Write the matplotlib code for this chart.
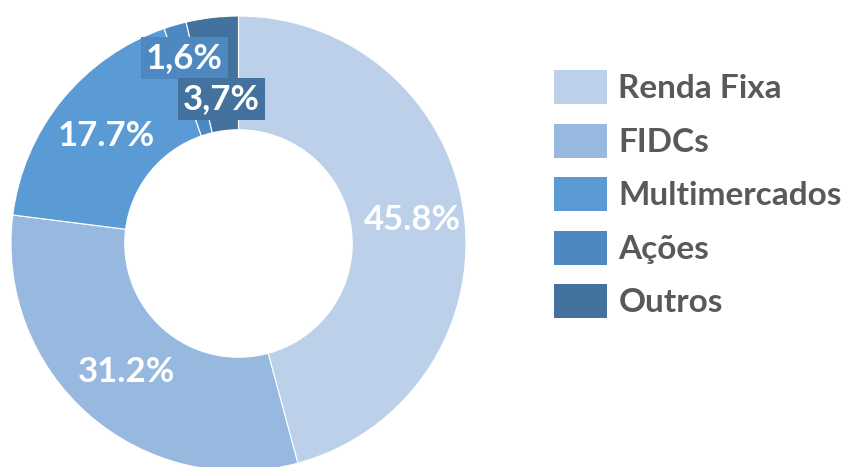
import numpy as np
import matplotlib
matplotlib.use("Agg")
import matplotlib.pyplot as plt

categories = ["Renda Fixa", "FIDCs", "Multimercados", "Ações", "Outros"]
shares = [45.8, 31.2, 17.7, 1.6, 3.7]
valueLabels = ["45.8%", "31.2%", "17.7%", "1,6%", "3,7%"]
colours = ["#BDD0EA", "#97B8DF", "#5B9BD5", "#4E88C0", "#44729E"]
boxed = [False, False, False, True, True]
labelRadius = [0.77, 0.75, 0.75, 0.85, 0.64]

fontFamily = ["Lato", "DejaVu Sans"]

fig = plt.figure(figsize=(8.56, 4.67), dpi=100)
W, H = 856, 467
ax = fig.add_axes([11 / W, -4 / H, 455 / W, 455 / H])

wedges, _ = ax.pie(
    shares, colors=colours, startangle=90, counterclock=False,
    radius=1.0, wedgeprops=dict(width=0.5, edgecolor="white", linewidth=0.8),
)
ax.set_xlim(-1, 1)
ax.set_ylim(-1, 1)
ax.set_aspect("equal")
ax.axis("off")

for w, lab, r, box, col in zip(wedges, valueLabels, labelRadius, boxed, colours):
    ang = np.deg2rad((w.theta1 + w.theta2) / 2)
    x, y = r * np.cos(ang), r * np.sin(ang)
    kw = {}
    if box:
        kw["bbox"] = dict(boxstyle="square,pad=0.15", facecolor=col, edgecolor="none")
    ax.text(x, y, lab, ha="center", va="center", color="white",
            fontsize=25, fontweight="bold", family=fontFamily, **kw)

leg = fig.legend(
    wedges, categories, loc="upper left", bbox_to_anchor=(554 / W, 1 - 70 / H),
    frameon=False, handlelength=1.6, handleheight=1.2, labelspacing=0.58,
    handletextpad=0.33, borderaxespad=0, borderpad=0,
    prop=dict(family=fontFamily, weight="bold", size=24),
)
for t in leg.get_texts():
    t.set_color("#595959")
for p in leg.get_patches():
    p.set_edgecolor("none")

fig.savefig("out.png", dpi=100, facecolor="white")
